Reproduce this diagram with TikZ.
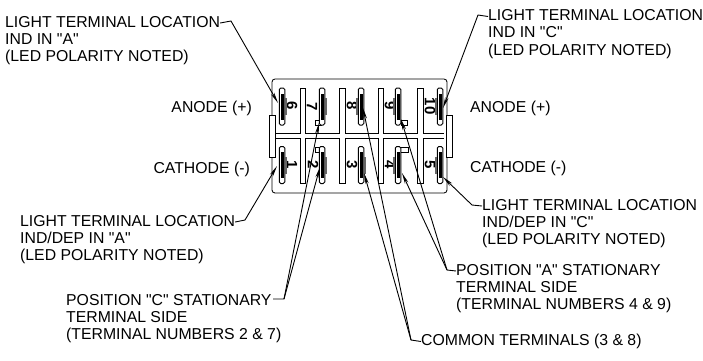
\documentclass[tikz,border=0pt]{standalone}
\usepackage{fontspec}
\setmainfont{Liberation Sans}[Ligatures=TeXOff]
\usetikzlibrary{arrows.meta}
\tikzset{
  lbl/.style={inner sep=0pt,align=left,font=\fontsize{15.8}{17.25}\selectfont},
  pol/.style={inner sep=0pt,font=\fontsize{15.8}{17.25}\selectfont},
  leader/.style={line width=0.9pt,-{Stealth[length=11pt,width=3.6pt]}},
  body/.style={line width=0.85pt,draw=black},
  tabbar/.style={body,fill=white,inner sep=0pt,minimum width=6pt,minimum height=42pt},
  termpin/.style={draw,line width=1pt,fill=white,rounded corners=1.5pt,inner sep=0pt,minimum width=5.5pt,minimum height=37pt},
  termcore/.style={fill=black,inner sep=0pt,minimum width=3pt,minimum height=26pt},
  termside/.style={fill=black!60,inner sep=0pt,minimum width=2.2pt,minimum height=17pt},
  termtab/.style={draw,line width=0.85pt,fill=white,inner sep=0pt,minimum width=6pt,minimum height=5pt},
  termnum/.style={inner sep=0pt,rotate=-90,font=\fontsize{15}{15}\selectfont\bfseries}
}
\begin{document}
\begin{tikzpicture}[x=1pt,y=-1pt]
  \useasboundingbox (0,0) rectangle (703,360);
  % housing
  \node[body,draw,rounded corners=3pt,inner sep=0pt,minimum width=175pt,minimum height=114pt] (housing) at (359.5,136) {};
  \draw[body] (275,133) -- (300,133) -- (300,88) -- (305,88) -- (305,133) -- (339,133) -- (339,88) -- (345,88) -- (345,133)
    -- (378,133) -- (378,88) -- (383,88) -- (383,133) -- (417,133) -- (417,88) -- (423,88) -- (423,133) -- (444,133);
  \draw[body] (275,138) -- (300,138) -- (300,183) -- (305,183) -- (305,138) -- (339,138) -- (339,183) -- (345,183) -- (345,138)
    -- (378,138) -- (378,183) -- (383,183) -- (383,138) -- (417,138) -- (417,183) -- (423,183) -- (423,138) -- (444,138);
  \node[tabbar] (tabL) at (272,136) {};
  \node[tabbar] (tabR) at (449,136) {};
  % numbers
  \node[termnum] (n6) at (292,106) {6};
  \node[termnum] (n7) at (312,107) {7};
  \node[termnum] (n8) at (352,106) {8};
  \node[termnum] (n9) at (390,106) {9};
  \node[termnum] (n10) at (430,106) {10};
  \node[termnum] (n1) at (292,165) {1};
  \node[termnum] (n2) at (313,165) {2};
  \node[termnum] (n3) at (352,165) {3};
  \node[termnum] (n4) at (390,165) {4};
  \node[termnum] (n5) at (430,165) {5};
  % small tabs
  \node[termtab] (tab7) at (318,122.5) {};
  \node[termtab] (tab9) at (404,122.5) {};
  \node[termtab,minimum width=8pt] (tab2) at (319,149.5) {};
  \node[termtab,minimum width=10pt] (tab4) at (403,149.5) {};
  % terminals
  \node[termpin] (t6) at (282,106.5) {};
  \node[termpin] (t7) at (322,106.5) {};
  \node[termpin] (t8) at (361,106.5) {};
  \node[termpin] (t9) at (398,106.5) {};
  \node[termpin] (t10) at (440,106.5) {};
  \node[termpin] (t1) at (282,165) {};
  \node[termpin] (t2) at (322,165) {};
  \node[termpin] (t3) at (361,165) {};
  \node[termpin] (t4) at (398,165) {};
  \node[termpin] (t5) at (440,165) {};
  \node[termcore] at (t6) {};
  \node[termcore] at (t7) {};
  \node[termcore] at (t8) {};
  \node[termcore] at (t9) {};
  \node[termcore] at (t10) {};
  \node[termcore] at (t1) {};
  \node[termcore] at (t2) {};
  \node[termcore] at (t3) {};
  \node[termcore] at (t4) {};
  \node[termcore] at (t5) {};
  \node[termside] at (286,106.5) {};
  \node[termside] at (326,106.5) {};
  \node[termside] at (357,106.5) {};
  \node[termside] at (394,106.5) {};
  \node[termside] at (436,106.5) {};
  \node[termside] at (286,165) {};
  \node[termside] at (326,165) {};
  \node[termside] at (365,165) {};
  \node[termside] at (394,165) {};
  \node[termside] at (436,165) {};
  % labels
  \node[lbl,anchor=west] (lblIndA) at (5,40.5) {LIGHT TERMINAL LOCATION\\IND IN "A"\\(LED POLARITY NOTED)};
  \node[lbl,anchor=west] (lblIndC) at (488,34) {LIGHT TERMINAL LOCATION\\IND IN "C"\\(LED POLARITY NOTED)};
  \node[lbl,anchor=west] (lblDepA) at (20,239.5) {LIGHT TERMINAL LOCATION\\IND/DEP IN "A"\\(LED POLARITY NOTED)};
  \node[lbl,anchor=west] (lblDepC) at (482,223.5) {LIGHT TERMINAL LOCATION\\IND/DEP IN "C"\\(LED POLARITY NOTED)};
  \node[lbl,anchor=west] (lblPosC) at (66,318.5) {POSITION "C" STATIONARY\\TERMINAL SIDE\\(TERMINAL NUMBERS 2 \& 7)};
  \node[lbl,anchor=west] (lblPosA) at (456,288.5) {POSITION "A" STATIONARY\\TERMINAL SIDE\\(TERMINAL NUMBERS 4 \& 9)};
  \node[lbl,anchor=west] (lblCom) at (421,341.5) {COMMON TERMINALS (3 \& 8)};
  \node[pol,anchor=east] (anodeL) at (252,108) {ANODE (+)};
  \node[pol,anchor=west] (anodeR) at (470,108) {ANODE (+)};
  \node[pol,anchor=east] (cathL) at (250,169) {CATHODE (-)};
  \node[pol,anchor=west] (cathR) at (470,168) {CATHODE (-)};
  % leaders
  \coordinate (bendIndA) at (231,21);
  \coordinate (bendIndC) at (478,15);
  \coordinate (bendDepA) at (245,220);
  \coordinate (bendDepC) at (472,205);
  \coordinate (bendPosC) at (284,299);
  \coordinate (startPosC) at (273,299);
  \coordinate (bendPosA) at (447,270);
  \coordinate (bendCom) at (411,340);
  \coordinate (tipInd6) at (278,103);
  \coordinate (tipInd10) at (443,108);
  \coordinate (tipDep1) at (277,166);
  \coordinate (tipDep5) at (443,177);
  \coordinate (tipPos7) at (319,123);
  \coordinate (tipPos2) at (320,167);
  \coordinate (tipPos9) at (401,119);
  \coordinate (tipPos4) at (402,173);
  \coordinate (tipCom8) at (363,108);
  \coordinate (tipCom3) at (364,173);
  \draw[leader] ([yshift=-7.1pt]lblIndA.north east) -- (bendIndA) -- (tipInd6);
  \draw[leader] ([yshift=-7.1pt]lblIndC.north west) -- (bendIndC) -- (tipInd10);
  \draw[leader] ([yshift=-7.1pt]lblDepA.north east) -- (bendDepA) -- (tipDep1);
  \draw[leader] ([yshift=-7.1pt]lblDepC.north west) -- (bendDepC) -- (tipDep5);
  \draw[leader] (startPosC) -- (bendPosC) -- (tipPos7);
  \draw[leader] (bendPosC) -- (tipPos2);
  \draw[leader] ([yshift=-7.1pt]lblPosA.north west) -- (bendPosA) -- (tipPos9);
  \draw[leader] (bendPosA) -- (tipPos4);
  \draw[leader] (lblCom.west) -- (bendCom) -- (tipCom8);
  \draw[leader] (bendCom) -- (tipCom3);
\end{tikzpicture}
\end{document}
